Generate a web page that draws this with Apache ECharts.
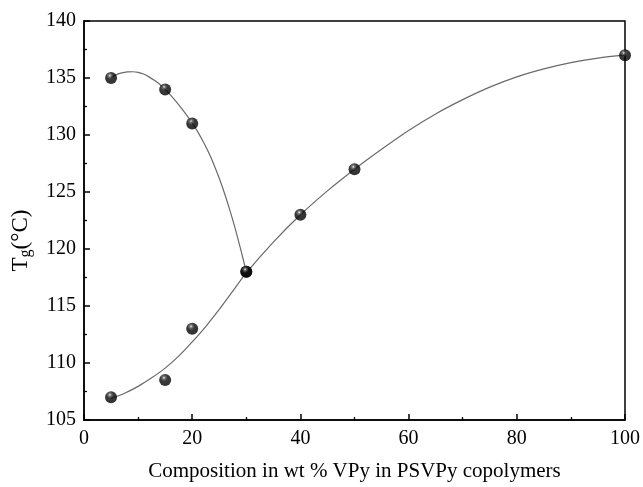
<!DOCTYPE html>
<html><head><meta charset="utf-8">
<script src="https://cdn.jsdelivr.net/npm/echarts@6/dist/echarts.min.js"></script>
<style>html,body{margin:0;padding:0;background:#fff}#c{width:643px;height:487px}</style>
</head><body><div id="c"></div>
<script>
// measured points
const upperX = [5, 15, 20, 30];
const upperY = [135, 134, 131, 118];
const lowerX = [5, 15, 20, 30, 40, 50, 100];
const lowerY = [107, 108.5, 113, 118, 123, 127, 137];
// fitted curves
const upperCurveX = [5, 6, 7, 8, 9, 10, 11, 12, 13, 14, 15, 16, 17, 18, 19, 20, 21, 22, 23, 24, 25, 26, 27, 28, 29, 30];
const upperCurveY = [135.05, 135.3, 135.45, 135.53, 135.55, 135.5, 135.35, 135.1, 134.8, 134.45, 134.0, 133.5, 132.95, 132.35, 131.72, 131.05, 130.3, 129.45, 128.5, 127.42, 126.2, 124.85, 123.35, 121.7, 119.9, 118.0];
const lowerCurveX = [5, 7.5, 10, 12.5, 15, 17.5, 20, 22.5, 25, 27.5, 30, 35, 40, 45, 50, 55, 60, 65, 70, 75, 80, 85, 90, 95, 100];
const lowerCurveY = [106.9, 107.35, 107.95, 108.7, 109.55, 110.6, 111.85, 113.2, 114.7, 116.3, 117.9, 120.6, 123.0, 125.1, 127.0, 128.75, 130.4, 131.85, 133.1, 134.2, 135.1, 135.8, 136.35, 136.75, 137.0];
const xTicks = [0, 20, 40, 60, 80, 100];
const yTicks = [105, 110, 115, 120, 125, 130, 135, 140];

const zip = (a, b) => a.map((v, i) => [v, b[i]]);
const ball = new echarts.graphic.RadialGradient(0.4, 0.3, 0.65, [
  {offset: 0, color: '#f4f4f4'},
  {offset: 0.18, color: '#555555'},
  {offset: 0.45, color: '#080808'},
  {offset: 1, color: '#000000'}
]);
const font = '"Liberation Serif", "Times New Roman", serif';
const chart = echarts.init(document.getElementById('c'));
const curveStyle = {color: '#6a6a6a', width: 1.2};
chart.setOption({
  animation: false,
  grid: {left: 84, right: 16, top: 21, bottom: 62, show: true, borderColor: '#000', borderWidth: 1.5, backgroundColor: 'transparent'},
  xAxis: {
    type: 'value', min: xTicks[0], max: xTicks[xTicks.length - 1], interval: 20,
    name: 'Composition in wt % VPy in PSVPy copolymers', nameLocation: 'middle', nameGap: 41,
    nameTextStyle: {fontFamily: font, fontSize: 21, color: '#000'},
    axisLine: {show: true, onZero: false, lineStyle: {color: '#000', width: 1.5}},
    axisTick: {show: true, inside: true, length: 6, lineStyle: {color: '#000', width: 1.5}},
    minorTick: {show: true, splitNumber: 2, length: 3, lineStyle: {color: '#000', width: 1.3}},
    axisLabel: {fontFamily: font, fontSize: 20, color: '#000', margin: 9},
    splitLine: {show: false}
  },
  yAxis: {
    type: 'value', min: yTicks[0], max: yTicks[yTicks.length - 1], interval: 5,
    name: '{t|T}{s|g}{t|(°C)}', nameLocation: 'middle', nameGap: 50, nameRotate: 90,
    nameTextStyle: {padding: [0, 40, 0, 0], rich: {
      t: {fontFamily: font, fontSize: 23, color: '#000'},
      s: {fontFamily: font, fontSize: 16, color: '#000', verticalAlign: 'bottom', padding: [10, 0, 0, 0]}
    }},
    axisLine: {show: true, onZero: false, lineStyle: {color: '#000', width: 1.5}},
    axisTick: {show: true, inside: true, length: 6, lineStyle: {color: '#000', width: 1.5}},
    minorTick: {show: true, splitNumber: 2, length: 3, lineStyle: {color: '#000', width: 1.3}},
    axisLabel: {fontFamily: font, fontSize: 20, color: '#000', margin: 8},
    splitLine: {show: false}
  },
  series: [
    {type: 'line', data: zip(upperCurveX, upperCurveY), smooth: 0.3, showSymbol: false, lineStyle: curveStyle, z: 2},
    {type: 'line', data: zip(lowerCurveX, lowerCurveY), smooth: 0.3, showSymbol: false, lineStyle: curveStyle, z: 2},
    {type: 'scatter', data: zip(upperX, upperY), symbolSize: 12, itemStyle: {color: ball}, clip: false, z: 3},
    {type: 'scatter', data: zip(lowerX, lowerY), symbolSize: 12, itemStyle: {color: ball}, clip: false, z: 3}
  ]
});
</script></body></html>
